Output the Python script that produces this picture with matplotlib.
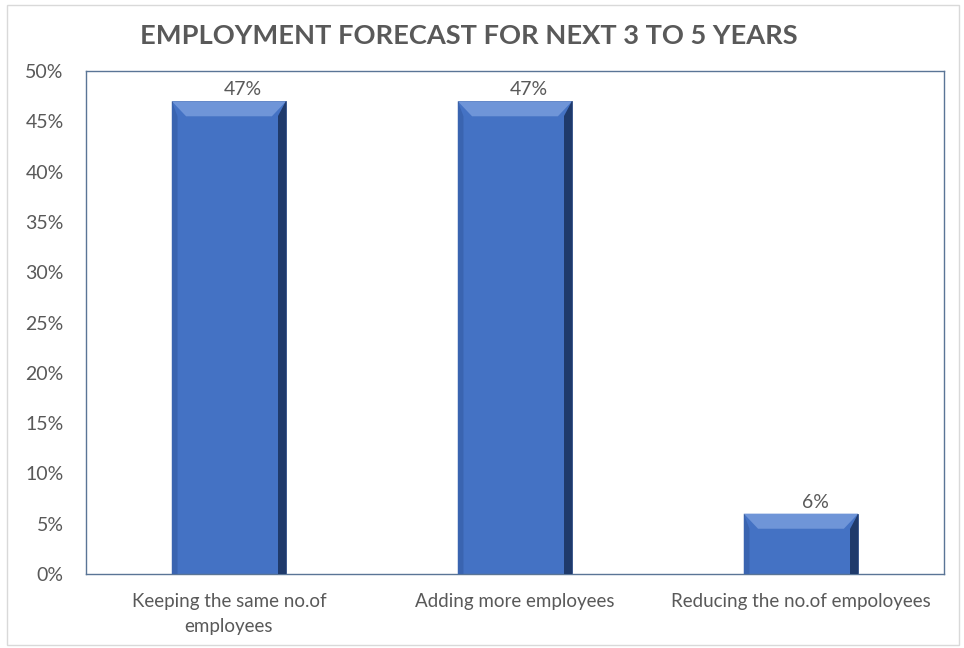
import matplotlib
matplotlib.use("Agg")
import matplotlib.pyplot as plt
from matplotlib.patches import Polygon, Rectangle
from matplotlib.ticker import PercentFormatter

# ---------- data ----------
categories = ["Keeping the same no.of\nemployees", "Adding more employees", "Reducing the no.of empoloyees"]
shares = [47, 47, 6]
value_labels = ["47%", "47%", "6%"]
yticks = [0, 5, 10, 15, 20, 25, 30, 35, 40, 45, 50]

TITLE = "EMPLOYMENT FORECAST FOR NEXT 3 TO 5 YEARS"
TEXT = "#595959"
BAR = "#4472C4"
FONT = ["Lato", "DejaVu Sans"]

plt.rcParams["font.family"] = FONT

fig = plt.figure(figsize=(9.64, 6.48), dpi=100)
ax = fig.add_axes([0.0892, 0.1142, 0.8900, 0.7762])

# thin grey frame round the whole chart
fig.patches.append(Rectangle((0.007, 0.004), 0.988, 0.988, transform=fig.transFigure,
                             fill=False, edgecolor="#d9d9d9", linewidth=1.0))

width = 0.4
xs = list(range(len(categories)))
bars = ax.bar(xs, shares, width=width, color=BAR, edgecolor="#2c4a80", linewidth=0.6, zorder=2)

# bevel look: light top strip, dark right side, soft left strip
bx, by = 0.05, 1.5
for b in bars:
    x0, x1 = b.get_x(), b.get_x() + b.get_width()
    h = b.get_height()
    dy = min(by, h * 0.25)
    ax.add_patch(Polygon([(x0, h), (x1, h), (x1 - bx, h - dy), (x0 + bx, h - dy)],
                         closed=True, facecolor="#6f95d8", edgecolor="none", zorder=3))
    ax.add_patch(Polygon([(x1, h), (x1, 0), (x1 - bx * 0.6, 0), (x1 - bx * 0.6, h - dy)],
                         closed=True, facecolor="#1f3a6b", edgecolor="none", zorder=3))
    ax.add_patch(Polygon([(x0, h), (x0 + bx * 0.4, h - dy), (x0 + bx * 0.4, 0), (x0, 0)],
                         closed=True, facecolor="#3a64b0", edgecolor="none", zorder=3))

for x, v, lab in zip(xs, shares, value_labels):
    ax.text(x + 0.05, v + 0.3, lab, ha="center", va="bottom", fontsize=14, color=TEXT)

ax.set_xlim(-0.5, len(categories) - 0.5)
ax.set_ylim(0, 50)
ax.set_yticks(yticks)
ax.yaxis.set_major_formatter(PercentFormatter(decimals=0))
ax.set_xticks(xs)
ax.set_xticklabels(categories, fontsize=13.5, color=TEXT, linespacing=1.55)
ax.tick_params(axis="y", labelsize=14, labelcolor=TEXT, length=0, pad=16)
ax.tick_params(axis="x", length=0, pad=14)

for s in ax.spines.values():
    s.set_color("#5a7596")
    s.set_linewidth(1.0)

fig.text(0.486, 0.945, TITLE, ha="center", va="center", fontsize=19.6,
         fontweight="bold", color=TEXT)

fig.savefig("out.png", dpi=100)
